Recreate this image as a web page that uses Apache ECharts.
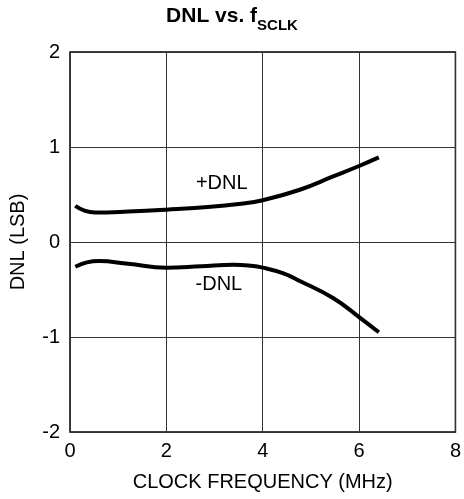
<!DOCTYPE html>
<html>
<head>
<meta charset="utf-8">
<script src="https://cdn.jsdelivr.net/npm/echarts@6/dist/echarts.min.js"></script>
<style>html,body{margin:0;padding:0;background:#fff}#c{width:464px;height:499px}</style>
</head>
<body>
<div id="c"></div>
<script>
var xTicks = [0, 2, 4, 6, 8];
var yTicks = [-2, -1, 0, 1, 2];
var posDNL = [[0.11,0.38],[0.3,0.33],[0.52,0.31],[1.21,0.32],[2.0,0.34],[2.92,0.37],[3.5,0.40],[4.0,0.44],[4.77,0.55],[5.46,0.69],[6.0,0.80],[6.41,0.89]];
var negDNL = [[0.11,-0.26],[0.35,-0.215],[0.6,-0.20],[1.21,-0.23],[2.0,-0.27],[2.72,-0.255],[3.4,-0.24],[3.74,-0.25],[4.0,-0.27],[4.43,-0.33],[4.77,-0.41],[5.46,-0.59],[6.0,-0.79],[6.41,-0.95]];
var posLabel = {text: '+DNL', at: [3.15, 0.62]};
var negLabel = {text: '-DNL', at: [3.09, -0.45]};

var font = 'Liberation Sans, Arial, sans-serif';
var chart = echarts.init(document.getElementById('c'));
function mk(name, data, lab) {
  return {
    type: 'line', name: name, data: data, smooth: 0.45, symbol: 'none',
    lineStyle: {color: '#000', width: 4},
    markPoint: {
      symbol: 'circle', symbolSize: 0, silent: true,
      data: [{coord: lab.at, value: lab.text}],
      label: {show: true, formatter: lab.text, color: '#000', fontSize: 20, fontFamily: font, position: 'inside'}
    }
  };
}
chart.setOption({
  animation: false,
  title: {
    text: '{b|DNL vs. f}{s|SCLK}', left: 'center', top: 1, padding: 0,
    textStyle: {rich: {
      b: {fontSize: 21, fontWeight: 'bold', fontFamily: font, color: '#000', lineHeight: 26, verticalAlign: 'bottom'},
      s: {fontSize: 15, fontWeight: 'bold', fontFamily: font, color: '#000', lineHeight: 26, verticalAlign: 'bottom', padding: [0,0,-6,0]}
    }}
  },
  grid: {left: 68, right: 7, top: 52, bottom: 67, show: true, borderColor: '#000', borderWidth: 1.5, backgroundColor: 'transparent'},
  xAxis: {
    type: 'value', min: xTicks[0], max: xTicks[xTicks.length-1], interval: 2,
    name: 'CLOCK FREQUENCY (MHz)', nameLocation: 'middle', nameGap: 40,
    nameTextStyle: {fontSize: 20, fontFamily: font, color: '#000'},
    axisLine: {show: false}, axisTick: {show: false},
    axisLabel: {fontSize: 20, fontFamily: font, color: '#000', margin: 9},
    splitLine: {show: true, lineStyle: {color: '#333', width: 1}}
  },
  yAxis: {
    type: 'value', min: yTicks[0], max: yTicks[yTicks.length-1], interval: 1,
    name: 'DNL (LSB)', nameLocation: 'middle', nameGap: 42, nameRotate: 90,
    nameTextStyle: {fontSize: 20, fontFamily: font, color: '#000'},
    axisLine: {show: false}, axisTick: {show: false},
    axisLabel: {fontSize: 20, fontFamily: font, color: '#000', margin: 10},
    splitLine: {show: true, lineStyle: {color: '#333', width: 1}}
  },
  series: [mk('+DNL', posDNL, posLabel), mk('-DNL', negDNL, negLabel)]
});
</script>
</body>
</html>
